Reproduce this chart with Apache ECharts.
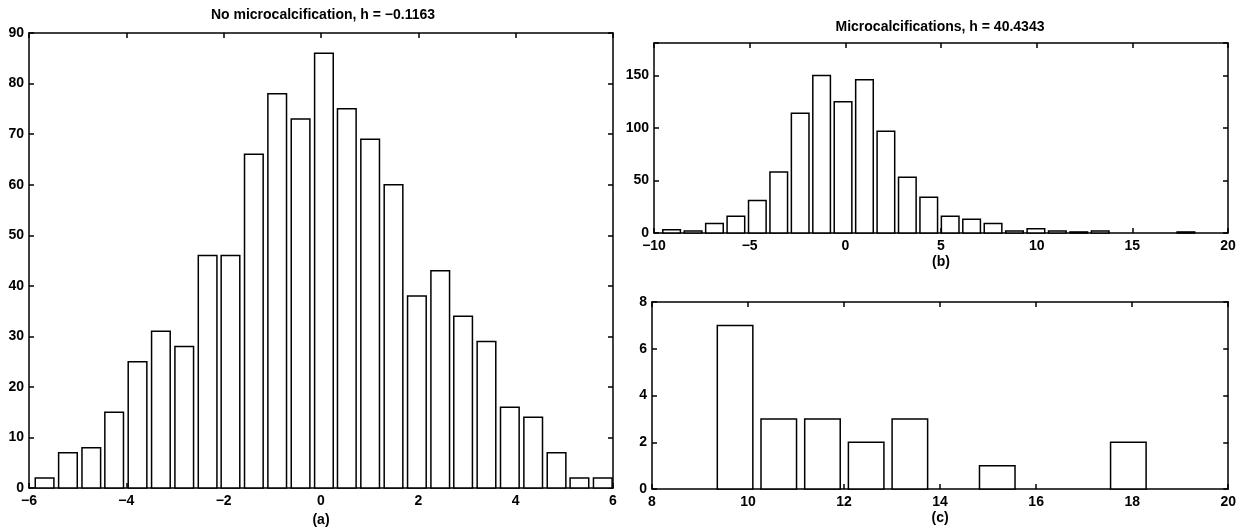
<!DOCTYPE html>
<html>
<head>
<meta charset="utf-8">
<script src="https://cdn.jsdelivr.net/npm/echarts@6/dist/echarts.min.js"></script>
<style>
html, body { margin: 0; padding: 0; background: #fff; }
#chart { width: 1239px; height: 532px; }
</style>
</head>
<body>
<div id="chart"></div>
<script>
// (a) no microcalcification
var noCalcCenters = [-5.68, -5.20, -4.72, -4.25, -3.77, -3.29, -2.81, -2.33, -1.86, -1.38, -0.90, -0.42, 0.06,
    0.53, 1.01, 1.49, 1.97, 2.45, 2.92, 3.40, 3.88, 4.36, 4.84, 5.31, 5.79]
var noCalcCounts = [2, 7, 8, 15, 25, 31, 28, 46, 46, 66, 78, 73, 86, 75, 69, 60, 38, 43, 34, 29, 16, 14, 7, 2, 2]

// (b) microcalcifications
var calcCenters = [-9.08, -7.96, -6.84, -5.72, -4.60, -3.48, -2.36, -1.24, -0.12, 1.00, 2.12, 3.24, 4.36,
    5.48, 6.60, 7.72, 8.84, 9.96, 11.08, 12.20, 13.32, 14.44, 15.56, 16.68, 17.80]
var calcCounts = [3, 2, 9, 16, 31, 58, 114, 150, 125, 146, 97, 53, 34, 16, 13, 9, 2, 4, 2, 1, 2, 0, 0, 0, 1]

// (c) tail of (b)
var tailCenters = [9.73, 10.64, 11.55, 12.46, 13.37, 14.28, 15.19, 16.10, 17.01, 17.92]
var tailCounts = [7, 3, 3, 2, 3, 0, 1, 0, 0, 2]

var font = "'Liberation Sans', Arial, sans-serif"
var chart = echarts.init(document.querySelector("#chart"))

function minus(v) {
    return String(v).replace('-', '\u2212')
}

function pairs(xs, ys) {
    return xs.map(function (x, i) { return [x, ys[i]] })
}

// bars drawn as outlined boxes, width in data units
function barRender(width) {
    return function (params, api) {
        var x = api.value(0), y = api.value(1)
        if (!y) return null
        var p0 = api.coord([x - width / 2, y])
        var p1 = api.coord([x + width / 2, 0])
        return {
            type: 'rect',
            shape: { x: p0[0], y: p0[1], width: p1[0] - p0[0], height: p1[1] - p0[1] },
            style: { fill: '#fff', stroke: '#000', lineWidth: 1.5 }
        }
    }
}

var lineStyle = { color: '#000', width: 1.5 }
var labelText = { color: '#000', fontSize: 14, fontWeight: 'bold', fontFamily: font }

function xAxisPair(grid, min, max, interval, name) {
    var base = {
        gridIndex: grid, type: 'value', min: min, max: max, interval: interval,
        axisLine: { show: true, onZero: false, lineStyle: lineStyle },
        axisTick: { show: true, inside: true, length: 5, lineStyle: lineStyle },
        splitLine: { show: false }
    }
    return [
        Object.assign({}, base, {
            position: 'bottom',
            name: name, nameLocation: 'middle', nameGap: 22,
            nameTextStyle: labelText,
            axisLabel: Object.assign({ margin: 6, formatter: minus }, labelText)
        }),
        Object.assign({}, base, { position: 'top', axisLabel: { show: false } })
    ]
}

function yAxisPair(grid, min, max, interval) {
    var base = {
        gridIndex: grid, type: 'value', min: min, max: max, interval: interval,
        axisLine: { show: true, onZero: false, lineStyle: lineStyle },
        axisTick: { show: true, inside: true, length: 5, lineStyle: lineStyle },
        splitLine: { show: false }
    }
    return [
        Object.assign({}, base, {
            position: 'left',
            axisLabel: Object.assign({
                margin: 5,
                formatter: function (v) { return v % interval === 0 ? minus(v) : '' }
            }, labelText)
        }),
        Object.assign({}, base, { position: 'right', axisLabel: { show: false } })
    ]
}

var option = {
    animation: false,
    backgroundColor: '#fff',
    grid: [
        { left: 29, right: 626, top: 33, bottom: 41 },
        { left: 654, right: 11, top: 43, bottom: 299 },
        { left: 652, right: 10, top: 302, bottom: 43 }
    ],
    graphic: [
        { type: 'text', x: 323, y: 15, style: { text: 'No microcalcification, h = \u22120.1163', fill: '#000',
            font: 'bold 14px ' + font, textAlign: 'center', textVerticalAlign: 'middle' } },
        { type: 'text', x: 940, y: 27, style: { text: 'Microcalcifications, h = 40.4343', fill: '#000',
            font: 'bold 14px ' + font, textAlign: 'center', textVerticalAlign: 'middle' } }
    ],
    xAxis: [].concat(
        xAxisPair(0, -6, 6, 2, '(a)'),
        xAxisPair(1, -10, 20, 5, '(b)'),
        xAxisPair(2, 8, 20, 2, '(c)')
    ),
    yAxis: [].concat(
        yAxisPair(0, 0, 90, 10),
        yAxisPair(1, 0, 181, 50),
        yAxisPair(2, 0, 8, 2)
    ),
    series: [
        { type: 'custom', xAxisIndex: 0, yAxisIndex: 0, renderItem: barRender(0.383),
            encode: { x: 0, y: 1 }, data: pairs(noCalcCenters, noCalcCounts) },
        { type: 'custom', xAxisIndex: 2, yAxisIndex: 2, renderItem: barRender(0.92),
            encode: { x: 0, y: 1 }, data: pairs(calcCenters, calcCounts) },
        { type: 'custom', xAxisIndex: 4, yAxisIndex: 4, renderItem: barRender(0.74),
            encode: { x: 0, y: 1 }, data: pairs(tailCenters, tailCounts) }
    ]
}

chart.setOption(option)
</script>
</body>
</html>
